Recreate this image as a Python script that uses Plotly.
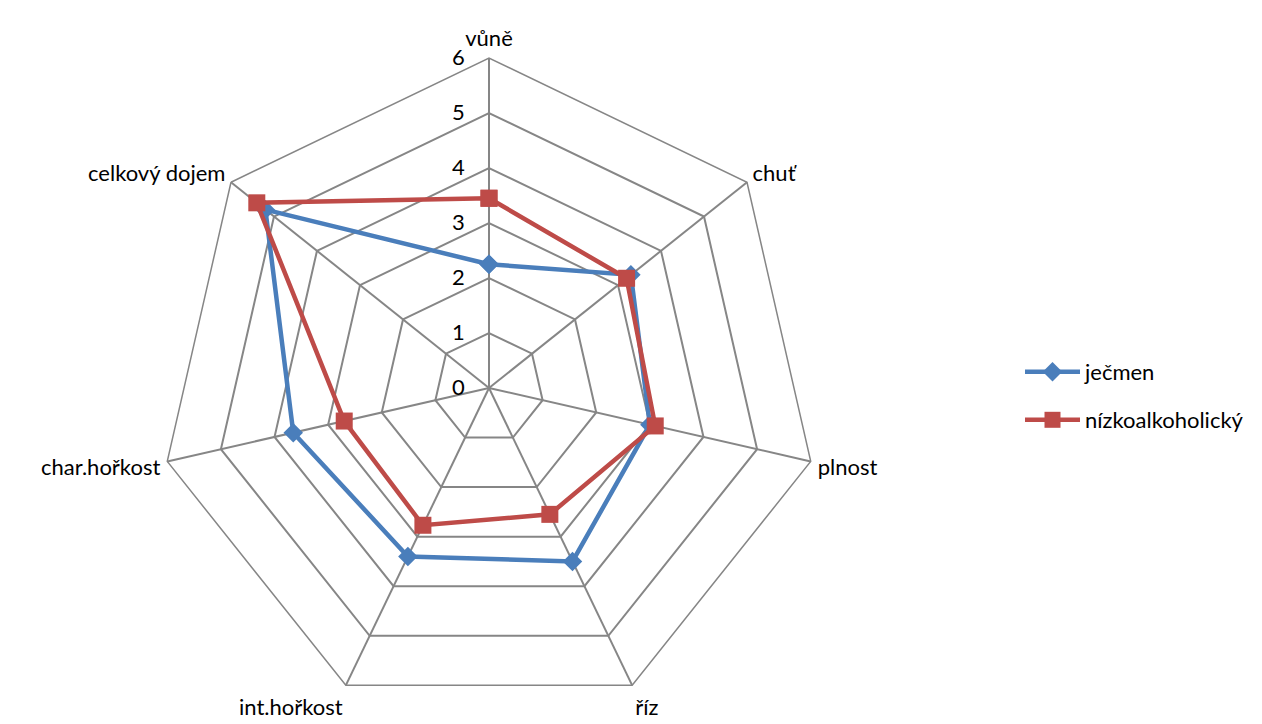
import plotly.graph_objects as go

# Sensory profile categories (clockwise from the top)
categories = ["vůně", "chuť", "plnost", "říz", "int.hořkost", "char.hořkost", "celkový dojem"]

jecmen = [2.25, 3.3, 3.0, 3.5, 3.4, 3.65, 5.2]
nizkoalkoholicky = [3.45, 3.2, 3.1, 2.55, 2.77, 2.7, 5.4]

radial_ticks = [0, 1, 2, 3, 4, 5, 6]

BLUE = "#4A7EBB"
RED = "#BE4B48"
GRID = "#868686"
FONT = "Lato"
FSIZE = 22


def closed(values):
    return values + values[:1]


fig = go.Figure()
fig.add_trace(go.Scatterpolar(
    r=closed(jecmen), theta=closed(categories), name="ječmen",
    mode="lines+markers",
    line=dict(color=BLUE, width=4.5),
    marker=dict(symbol="diamond", size=15, color=BLUE),
    legend="legend", showlegend=True,
))
fig.add_trace(go.Scatterpolar(
    r=closed(nizkoalkoholicky), theta=closed(categories), name="nízkoalkoholický",
    mode="lines+markers",
    line=dict(color=RED, width=4.5),
    marker=dict(symbol="square", size=17, color=RED),
    legend="legend2", showlegend=True,
))

W, H = 1262, 724
ML, MR, MT, MB = 0, 0, 58, 6
R = (H - MT - MB) / 2
cx = 489

legend_common = dict(
    font=dict(family=FONT, size=FSIZE, color="#000000"),
    bgcolor="rgba(0,0,0,0)",
    itemwidth=55,
    xanchor="left", yanchor="middle",
    visible=True,
)

fig.update_layout(
    width=W, height=H,
    margin=dict(l=ML, r=MR, t=MT, b=MB),
    paper_bgcolor="white",
    showlegend=True,
    font=dict(family=FONT, size=FSIZE, color="#000000"),
    polar=dict(
        domain=dict(x=[(cx - R) / W, (cx + R) / W], y=[0, 1]),
        gridshape="linear",
        bgcolor="white",
        radialaxis=dict(
            range=[0, 6], tickvals=radial_ticks, ticktext=[str(v) for v in radial_ticks],
            angle=90, tickangle=90, side="counterclockwise",
            showline=False, ticks="outside", ticklen=16, tickcolor="rgba(0,0,0,0)",
            gridcolor=GRID, gridwidth=1.5,
            tickfont=dict(family=FONT, size=FSIZE, color="#000000"),
        ),
        angularaxis=dict(
            direction="clockwise", rotation=90,
            categoryorder="array", categoryarray=categories,
            showline=True, linecolor=GRID, linewidth=1.5,
            gridcolor=GRID, gridwidth=1.5,
            ticks="outside", ticklen=2, tickcolor="rgba(0,0,0,0)",
            tickfont=dict(family=FONT, size=FSIZE, color="#000000"),
        ),
    ),
    legend=dict(x=1020 / W, y=1 - (372 - MT) / (H - MT - MB), **legend_common),
    legend2=dict(x=1020 / W, y=1 - (420 - MT) / (H - MT - MB), **legend_common),
)

fig.write_html("out.html")
